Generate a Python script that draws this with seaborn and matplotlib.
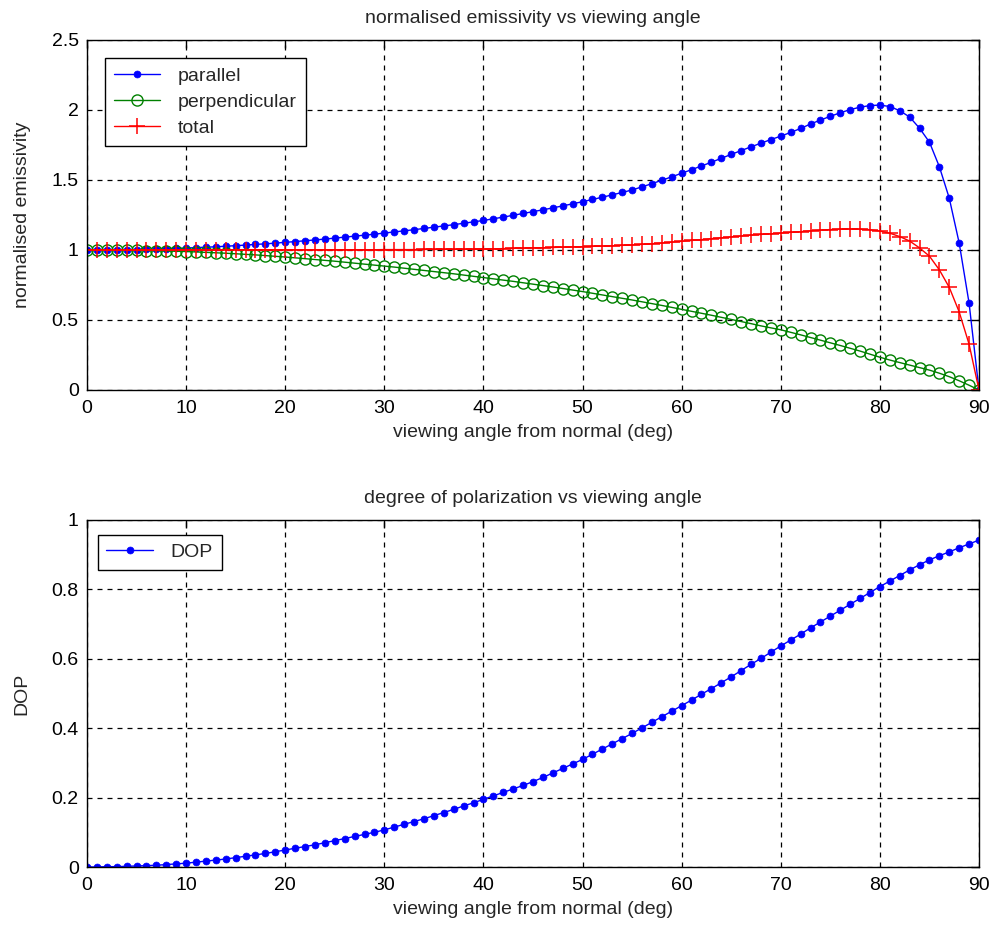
import matplotlib
matplotlib.use("Agg")
import matplotlib.pyplot as plt
import matplotlib.ticker as mticker
import numpy as np
import pandas as pd
import seaborn as sns

angles = list(range(0, 91))

parallel = [
    1.000, 1.000, 1.001, 1.001, 1.002, 1.003, 1.005, 1.007, 1.009, 1.011,
    1.014, 1.017, 1.020, 1.023, 1.027, 1.031, 1.035, 1.040, 1.044, 1.049,
    1.055, 1.060, 1.066, 1.072, 1.078, 1.085, 1.092, 1.099, 1.106, 1.113,
    1.121, 1.129, 1.137, 1.145, 1.154, 1.163, 1.172, 1.181, 1.191, 1.201,
    1.211, 1.223, 1.235, 1.248, 1.261, 1.274, 1.287, 1.301, 1.315, 1.330,
    1.345, 1.361, 1.377, 1.394, 1.411, 1.429, 1.451, 1.474, 1.498, 1.523,
    1.548, 1.574, 1.600, 1.627, 1.655, 1.683, 1.710, 1.737, 1.763, 1.789,
    1.813, 1.840, 1.868, 1.900, 1.928, 1.955, 1.980, 2.003, 2.020, 2.032,
    2.035, 2.025, 1.995, 1.950, 1.870, 1.770, 1.595, 1.370, 1.050, 0.620,
    0.000,
]

perpendicular = [
    1.000, 1.000, 0.999, 0.999, 0.998, 0.997, 0.996, 0.995, 0.993, 0.991,
    0.989, 0.986, 0.983, 0.980, 0.977, 0.973, 0.969, 0.965, 0.960, 0.955,
    0.950, 0.944, 0.938, 0.932, 0.926, 0.920, 0.913, 0.906, 0.899, 0.892,
    0.885, 0.878, 0.870, 0.862, 0.854, 0.846, 0.838, 0.830, 0.821, 0.812,
    0.803, 0.794, 0.785, 0.776, 0.766, 0.756, 0.746, 0.736, 0.725, 0.714,
    0.703, 0.691, 0.679, 0.667, 0.655, 0.643, 0.630, 0.617, 0.604, 0.590,
    0.576, 0.562, 0.548, 0.534, 0.519, 0.504, 0.489, 0.474, 0.458, 0.444,
    0.430, 0.412, 0.394, 0.375, 0.356, 0.337, 0.318, 0.298, 0.278, 0.256,
    0.234, 0.214, 0.196, 0.178, 0.160, 0.142, 0.120, 0.095, 0.066, 0.034,
    0.000,
]

total = [
    1.000, 1.000, 1.000, 1.000, 1.000, 1.000, 1.000, 1.001, 1.001, 1.001,
    1.001, 1.001, 1.001, 1.001, 1.002, 1.002, 1.002, 1.002, 1.002, 1.002,
    1.002, 1.002, 1.002, 1.002, 1.002, 1.002, 1.002, 1.002, 1.002, 1.002,
    1.003, 1.003, 1.003, 1.003, 1.004, 1.004, 1.005, 1.005, 1.006, 1.006,
    1.007, 1.008, 1.010, 1.012, 1.013, 1.015, 1.016, 1.018, 1.020, 1.022,
    1.024, 1.026, 1.028, 1.030, 1.033, 1.036, 1.040, 1.045, 1.050, 1.056,
    1.062, 1.068, 1.074, 1.081, 1.087, 1.094, 1.100, 1.106, 1.111, 1.116,
    1.121, 1.126, 1.131, 1.137, 1.142, 1.146, 1.149, 1.150, 1.149, 1.145,
    1.135, 1.120, 1.096, 1.064, 1.015, 0.956, 0.858, 0.733, 0.558, 0.327,
    0.000,
]

dop = [
    0.000, 0.000, 0.001, 0.001, 0.002, 0.003, 0.004, 0.005, 0.007, 0.009,
    0.011, 0.014, 0.017, 0.020, 0.023, 0.027, 0.031, 0.035, 0.039, 0.044,
    0.049, 0.054, 0.059, 0.064, 0.070, 0.076, 0.082, 0.088, 0.094, 0.100,
    0.107, 0.115, 0.123, 0.131, 0.139, 0.148, 0.157, 0.166, 0.176, 0.185,
    0.195, 0.205, 0.215, 0.225, 0.235, 0.246, 0.258, 0.271, 0.284, 0.297,
    0.310, 0.325, 0.340, 0.355, 0.370, 0.385, 0.401, 0.417, 0.433, 0.449,
    0.465, 0.481, 0.498, 0.514, 0.531, 0.548, 0.566, 0.584, 0.601, 0.619,
    0.637, 0.654, 0.671, 0.689, 0.706, 0.723, 0.740, 0.757, 0.774, 0.791,
    0.808, 0.824, 0.840, 0.856, 0.871, 0.885, 0.897, 0.908, 0.920, 0.931,
    0.942,
]

x_ticks = [0, 10, 20, 30, 40, 50, 60, 70, 80, 90]
top_yticks = [0, 0.5, 1, 1.5, 2, 2.5]
bot_yticks = [0, 0.2, 0.4, 0.6, 0.8, 1]

sns.set_style("white")
plt.rcParams['font.family'] = ['Liberation Sans', 'DejaVu Sans']
FS = 14

BLUE = (0, 0, 1)
GREEN = (0, 0.5, 0)
RED = (1, 0, 0)

df_top = pd.DataFrame({"angle": angles, "parallel": parallel,
                       "perpendicular": perpendicular, "total": total})
df_bot = pd.DataFrame({"angle": angles, "DOP": dop})

W, H = 992, 932
fig = plt.figure(figsize=(W / 100, H / 100), dpi=100)
ax1 = fig.add_axes([87 / W, (H - 390) / H, 892 / W, 350 / H])
ax2 = fig.add_axes([87 / W, (H - 867) / H, 892 / W, 347 / H])

sns.lineplot(data=df_top, x="angle", y="parallel", ax=ax1, color=BLUE,
             marker="o", markersize=5, markeredgewidth=0.5,
             markeredgecolor=BLUE, linewidth=1, label="parallel")
sns.lineplot(data=df_top, x="angle", y="perpendicular", ax=ax1, color=GREEN,
             marker="o", markersize=8, markerfacecolor="none",
             markeredgecolor=GREEN, markeredgewidth=1, linewidth=1,
             label="perpendicular")
sns.lineplot(data=df_top, x="angle", y="total", ax=ax1, color=RED,
             marker="+", markersize=11, markeredgewidth=1.1,
             markeredgecolor=RED, linewidth=1, label="total")

sns.lineplot(data=df_bot, x="angle", y="DOP", ax=ax2, color=BLUE,
             marker="o", markersize=5, markeredgewidth=0.5,
             markeredgecolor=BLUE, linewidth=1, label="DOP")

fmt = mticker.FuncFormatter(lambda v, p: f"{v:g}")
for ax, yt, ylab, title in [
    (ax1, top_yticks, "normalised emissivity", "normalised emissivity vs viewing angle"),
    (ax2, bot_yticks, "DOP", "degree of polarization vs viewing angle"),
]:
    ax.set_xlim(0, 90)
    ax.set_ylim(yt[0], yt[-1])
    ax.set_xticks(x_ticks)
    ax.set_yticks(yt)
    ax.xaxis.set_major_formatter(fmt)
    ax.yaxis.set_major_formatter(fmt)
    ax.grid(True, color="black", linestyle=(0, (4, 4)), linewidth=0.9)
    ax.tick_params(direction="in", length=6, width=1, top=True, right=True,
                   labelsize=FS, colors="black")
    ax.tick_params(axis="x", pad=7)
    ax.tick_params(axis="y", pad=6)
    for s in ax.spines.values():
        s.set_color("black")
        s.set_linewidth(1.0)
        s.set_visible(True)
    ax.set_xlabel("viewing angle from normal (deg)", fontsize=FS, labelpad=5)
    ax.set_ylabel(ylab, fontsize=FS, labelpad=15)
    ax.set_title(title, fontsize=FS, pad=12)
    ax.set_facecolor("white")

leg1 = ax1.legend(loc="upper left", bbox_to_anchor=(0.02, 0.948), fontsize=FS,
                  frameon=True, fancybox=False, edgecolor="black", framealpha=1,
                  handlelength=2.4, borderaxespad=0, labelspacing=0.45,
                  borderpad=0.45, handletextpad=0.9)
leg1.get_frame().set_linewidth(1.0)
leg2 = ax2.legend(loc="upper left", bbox_to_anchor=(0.012, 0.958), fontsize=FS,
                  frameon=True, fancybox=False, edgecolor="black", framealpha=1,
                  handlelength=2.4, borderaxespad=0, borderpad=0.45,
                  handletextpad=0.9)
leg2.get_frame().set_linewidth(1.0)

fig.savefig("out.png", dpi=100, facecolor="white")
